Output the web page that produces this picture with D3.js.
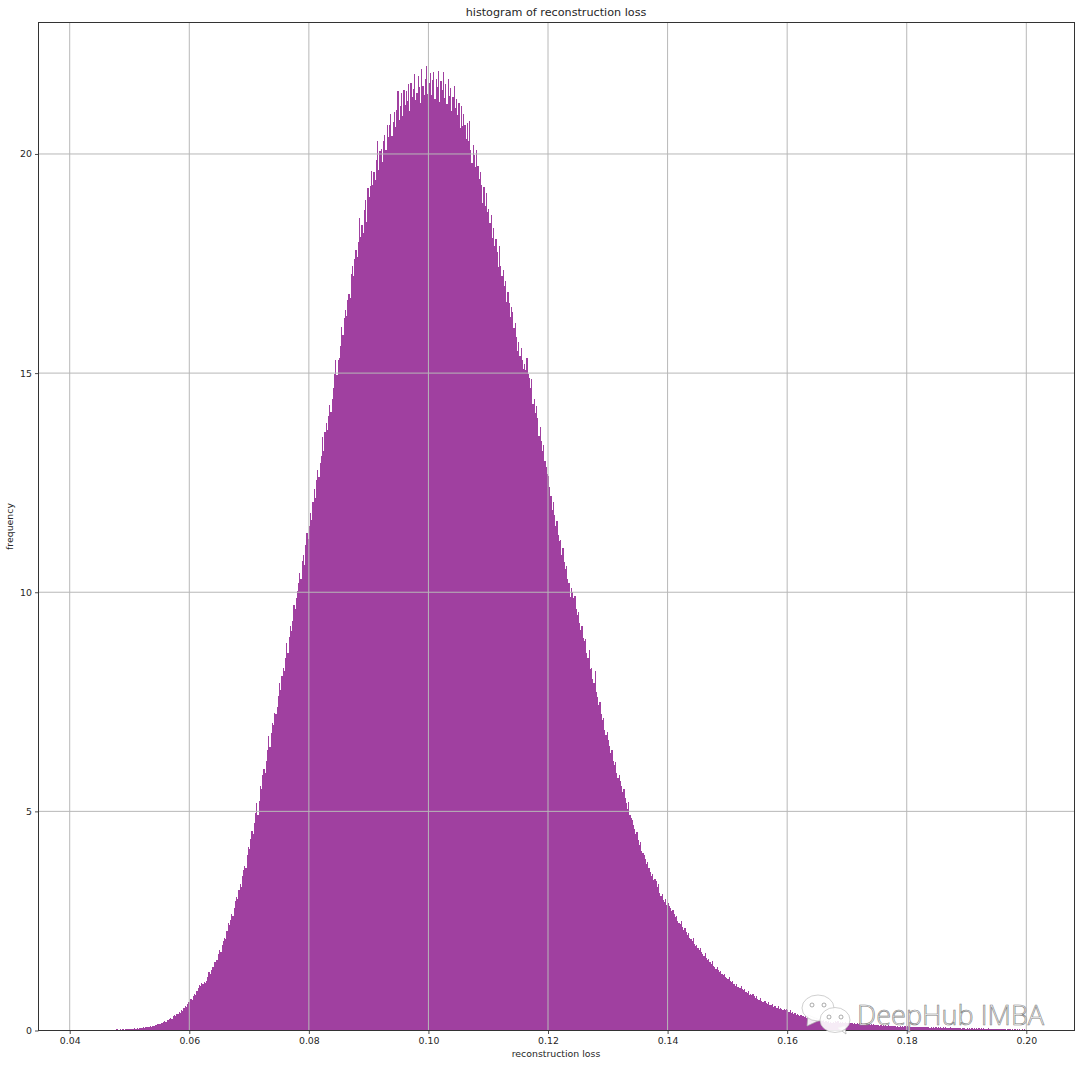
<!DOCTYPE html>
<html><head><meta charset="utf-8">
<script src="https://cdn.jsdelivr.net/npm/d3@7"></script>
<style>html,body{margin:0;padding:0;background:#fff}svg{display:block}text{font-family:"DejaVu Sans",sans-serif;fill:#262626}</style>
</head><body><svg id="c" width="1080" height="1065"></svg>
<script>
const chartTitle = "histogram of reconstruction loss";
const xLabel = "reconstruction loss";
const yLabel = "frequency";
const xTickValues = [0.04,0.06,0.08,0.10,0.12,0.14,0.16,0.18,0.20];
const yTickValues = [0,5,10,15,20];
const xDomain = [0.03478,0.20806];
const yDomain = [0,23];
const binStart = 0.046;
const binWidth = 0.0002;
const binValues = [
0.00,0.00,0.00,0.02,0.02,0.00,0.02,0.02,0.02,0.03,
0.02,0.02,0.03,0.02,0.03,0.02,0.03,0.03,0.03,0.04,
0.03,0.04,0.04,0.03,0.05,0.04,0.05,0.04,0.05,0.06,
0.05,0.07,0.06,0.08,0.07,0.09,0.08,0.10,0.09,0.11,
0.11,0.13,0.12,0.14,0.15,0.14,0.17,0.16,0.19,0.21,
0.20,0.24,0.23,0.26,0.29,0.27,0.32,0.35,0.33,0.38,
0.37,0.43,0.41,0.47,0.45,0.52,0.56,0.53,0.61,0.66,
0.64,0.72,0.69,0.78,0.83,0.80,0.90,0.96,1.04,1.01,
1.08,1.05,1.10,1.09,1.14,1.22,1.33,1.28,1.39,1.46,
1.44,1.56,1.62,1.60,1.74,1.83,1.80,1.94,2.04,2.12,
2.09,2.27,2.45,2.40,2.52,2.66,2.62,2.80,2.96,3.04,
2.99,3.20,3.34,3.28,3.52,3.66,3.75,3.70,4.00,4.18,
4.14,4.36,4.55,4.48,4.74,4.96,5.20,4.92,5.24,5.58,
5.50,5.82,5.96,5.88,6.16,6.40,6.72,6.48,6.78,7.02,
6.96,7.24,7.22,7.38,7.64,7.92,7.76,8.10,8.28,8.20,
8.50,8.84,8.62,8.98,9.24,9.12,9.34,9.70,9.62,9.86,
10.02,10.20,10.44,10.30,10.72,10.86,10.62,11.08,11.36,11.22,
11.52,11.80,11.64,12.06,12.36,12.16,12.56,12.78,12.64,12.96,
13.10,13.54,13.22,13.66,13.86,13.70,14.02,14.28,14.12,14.42,
14.66,14.98,15.30,14.96,15.30,15.34,15.62,16.06,15.88,16.26,
16.44,16.30,16.66,16.80,16.72,17.26,17.44,17.22,17.60,17.80,
17.66,18.00,18.54,18.10,18.38,18.20,18.72,18.96,18.44,19.22,
19.02,19.26,19.62,19.30,19.58,19.40,19.86,20.30,19.64,20.06,
20.12,19.82,20.30,20.44,20.10,20.66,20.38,20.66,20.92,20.40,
20.74,20.96,20.62,21.00,21.44,20.78,21.10,21.40,20.86,21.46,
21.12,21.44,21.20,21.60,20.98,21.62,21.30,21.48,21.82,21.24,
21.40,21.78,21.52,21.16,21.94,21.56,21.34,21.70,22.00,21.36,
21.62,21.84,21.34,21.68,21.86,21.26,21.72,21.52,21.90,21.18,
21.66,21.46,21.88,21.28,21.60,21.14,21.70,21.32,21.50,20.98,
21.30,21.54,21.04,21.26,20.88,21.16,20.60,21.10,20.64,20.92,
20.66,20.34,20.70,20.30,20.76,20.08,19.80,20.20,19.98,19.70,
20.10,19.72,19.44,19.60,19.30,18.88,19.24,18.82,19.12,18.68,
18.74,18.42,18.60,18.08,18.32,17.90,18.06,17.76,17.42,17.90,
17.44,17.22,17.36,16.98,17.10,16.62,16.86,16.60,16.28,16.50,
16.40,16.04,16.14,15.82,15.50,15.72,15.40,15.58,15.30,15.10,
15.20,15.06,15.34,14.98,14.88,14.66,14.86,14.30,14.42,14.10,
14.24,13.98,13.56,13.76,13.44,13.22,13.36,13.00,12.86,12.70,
12.66,12.40,12.20,11.88,12.06,11.76,11.52,11.62,11.30,11.16,
11.20,10.86,11.02,10.70,10.52,10.60,10.30,10.22,9.88,10.10,
10.00,9.86,9.92,9.62,9.48,9.56,9.30,9.14,9.22,8.96,
8.88,8.94,8.62,8.50,8.68,8.24,8.28,8.02,7.94,8.20,
7.72,7.62,7.42,7.50,7.22,7.08,7.14,6.86,6.74,6.80,
6.62,6.50,6.34,6.40,6.16,6.06,6.12,5.88,5.76,5.82,
5.70,5.58,5.44,5.50,5.30,5.18,5.06,5.22,4.92,4.86,
4.80,4.68,4.60,4.48,4.54,4.34,4.24,4.30,4.10,4.06,
4.00,3.92,3.80,3.84,3.70,3.62,3.52,3.58,3.44,3.46,
3.40,3.28,3.34,3.14,3.08,3.12,2.98,2.94,3.00,2.86,
2.90,2.84,2.80,2.72,2.76,2.66,2.58,2.62,2.50,2.46,
2.44,2.50,2.36,2.30,2.34,2.24,2.18,2.22,2.12,2.08,
2.05,2.10,1.98,1.92,1.96,1.88,1.84,1.88,1.78,1.74,
1.71,1.76,1.66,1.60,1.64,1.56,1.52,1.58,1.48,1.44,
1.41,1.46,1.38,1.34,1.36,1.30,1.26,1.30,1.22,1.20,
1.18,1.22,1.14,1.10,1.14,1.06,1.02,1.06,1.00,1.00,
0.98,1.02,0.94,0.92,0.94,0.88,0.86,0.90,0.82,0.84,
0.80,0.84,0.78,0.74,0.78,0.72,0.70,0.74,0.68,0.66,
0.64,0.68,0.62,0.60,0.64,0.58,0.58,0.60,0.54,0.56,
0.55,0.52,0.56,0.50,0.52,0.50,0.46,0.50,0.46,0.48,
0.46,0.42,0.46,0.40,0.42,0.38,0.40,0.36,0.38,0.36,
0.34,0.36,0.32,0.34,0.30,0.32,0.28,0.32,0.28,0.30,
0.28,0.26,0.28,0.24,0.27,0.23,0.25,0.22,0.24,0.22,
0.23,0.20,0.22,0.19,0.21,0.18,0.20,0.18,0.19,0.17,
0.21,0.19,0.21,0.18,0.20,0.18,0.19,0.17,0.19,0.17,
0.18,0.16,0.18,0.16,0.17,0.15,0.17,0.15,0.16,0.14,
0.16,0.14,0.16,0.14,0.15,0.13,0.15,0.13,0.14,0.13,
0.14,0.12,0.14,0.12,0.13,0.12,0.13,0.11,0.13,0.11,
0.12,0.11,0.12,0.10,0.12,0.10,0.11,0.10,0.11,0.10,
0.11,0.09,0.11,0.09,0.10,0.09,0.10,0.09,0.10,0.09,
0.10,0.08,0.10,0.08,0.09,0.08,0.09,0.08,0.09,0.07,
0.09,0.07,0.08,0.07,0.08,0.07,0.08,0.07,0.08,0.06,
0.08,0.06,0.08,0.06,0.07,0.06,0.07,0.06,0.07,0.06,
0.07,0.05,0.07,0.06,0.06,0.05,0.07,0.05,0.06,0.05,
0.06,0.05,0.06,0.05,0.06,0.04,0.06,0.05,0.05,0.04,
0.06,0.04,0.05,0.04,0.05,0.04,0.05,0.04,0.05,0.04,
0.05,0.04,0.05,0.03,0.05,0.04,0.04,0.03,0.05,0.03,
0.04,0.03,0.04,0.03,0.04,0.03,0.04,0.03,0.04,0.03,
0.04,0.03,0.04,0.02,0.04,0.03,0.03,0.02,0.04,0.02,
0.03,0.02,0.03,0.02,0.03,0.02,0.03,0.02,0.03,0.02
];
const plot = {left:38.5,right:1074.5,top:22.5,bottom:1030.5};
const svg = d3.select("#c");
svg.append("rect").attr("width",1080).attr("height",1065).attr("fill","#fff");
const x = d3.scaleLinear().domain(xDomain).range([plot.left,plot.right]);
const y = d3.scaleLinear().domain(yDomain).range([plot.bottom,plot.top]);

svg.append("g").selectAll("rect").data(binValues).join("rect")
  .attr("x",(d,i)=>x(binStart+i*binWidth))
  .attr("width",(d,i)=>x(binStart+(i+1)*binWidth)-x(binStart+i*binWidth))
  .attr("y",d=>y(d)).attr("height",d=>y(0)-y(d))
  .attr("fill","purple").attr("fill-opacity",0.75)
  .attr("shape-rendering","crispEdges");

const grid = svg.append("g").attr("stroke","#b8b8b8").attr("stroke-width",1);
grid.selectAll("line.gx").data(xTickValues).join("line").attr("class","gx")
  .attr("x1",d=>x(d)).attr("x2",d=>x(d)).attr("y1",plot.top).attr("y2",plot.bottom);
grid.selectAll("line.gy").data(yTickValues).join("line").attr("class","gy")
  .attr("y1",d=>y(d)).attr("y2",d=>y(d)).attr("x1",plot.left).attr("x2",plot.right);

const xAxis = d3.axisBottom(x).tickValues(xTickValues).tickFormat(d3.format(".2f")).tickSize(3.5).tickPadding(3);
const yAxis = d3.axisLeft(y).tickValues(yTickValues).tickFormat(d3.format("d")).tickSize(3.5).tickPadding(3);
const gx = svg.append("g").attr("transform",`translate(0,${plot.bottom})`).call(xAxis);
const gy = svg.append("g").attr("transform",`translate(${plot.left},0)`).call(yAxis);
[gx,gy].forEach(g=>{
  g.select(".domain").remove();
  g.selectAll("line").attr("stroke","#222").attr("stroke-width",0.8);
  g.selectAll("text").style("font-family",'"DejaVu Sans",sans-serif').style("font-size","9.35px").attr("fill","#262626");
});
svg.append("rect").attr("x",plot.left).attr("y",plot.top).attr("width",plot.right-plot.left).attr("height",plot.bottom-plot.top)
  .attr("fill","none").attr("stroke","#333").attr("stroke-width",1).attr("shape-rendering","crispEdges");

svg.append("text").attr("x",556).attr("y",15.5).attr("text-anchor","middle").style("font-size","11.2px").text(chartTitle);
svg.append("text").attr("x",556).attr("y",1056.5).attr("text-anchor","middle").style("font-size","9.35px").text(xLabel);
svg.append("text").attr("transform","translate(13,526.5) rotate(-90)").attr("text-anchor","middle").style("font-size","9.35px").text(yLabel);

// watermark
const wm = svg.append("g");
function bubble(cx,cy,rx,ry,tail){
  const g = wm.append("g");
  g.append("path").attr("d",tail).attr("fill","#fff").attr("fill-opacity",.9).attr("stroke","#aaa").attr("stroke-width",.7);
  g.append("ellipse").attr("cx",cx).attr("cy",cy).attr("rx",rx).attr("ry",ry)
    .attr("fill","#fff").attr("fill-opacity",.9).attr("stroke","#bbb").attr("stroke-width",.7);
  [-6,6].forEach(dx=>g.append("circle").attr("cx",cx+dx).attr("cy",cy-3).attr("r",2)
    .attr("fill","#fff").attr("stroke","#888").attr("stroke-width",.7));
}
bubble(818,1008,16,13,"M808 1015 L807 1026 L820 1020 Z");
bubble(835,1020,15,12.5,"M838 1028 L846 1034 L845 1026 Z");
svg.append("text").attr("x",857).attr("y",1025).style("font-family",'"Open Sans",sans-serif').style("font-size","27.1px")
  .style("font-weight","300")
  .style("fill","#fff").style("fill-opacity",.9).style("stroke","#808080").style("stroke-width",.65).text("DeepHub IMBA");
</script></body></html>
